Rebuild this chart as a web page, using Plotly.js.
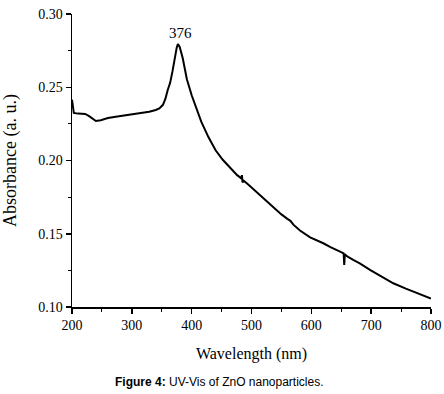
<!DOCTYPE html>
<html>
<head>
<meta charset="utf-8">
<script src="https://cdn.plot.ly/plotly-3.0.1.min.js"></script>
<style>html,body{margin:0;padding:0;background:#fff;}#chart{width:444px;height:394px;}</style>
</head>
<body>
<div id="chart"></div>
<script>
const wavelength = [200, 201, 203, 210, 222, 228, 234, 240, 248, 260, 273, 290, 301, 315, 329, 340, 346, 352, 356, 360, 364, 368, 372, 375, 377, 380, 385, 392, 400, 408, 416, 428, 440, 452, 465, 476, 483, 484, 485, 487, 495, 506, 517, 528, 540, 550, 560, 565, 570, 575, 581, 598, 610, 620, 632, 640, 648, 654, 655, 656, 660, 670, 681, 698, 718, 737, 758, 780, 800];
const absorbance = [0.2415, 0.2370, 0.2325, 0.2320, 0.2318, 0.2305, 0.2285, 0.2270, 0.2275, 0.2290, 0.2299, 0.2308, 0.2315, 0.2322, 0.2333, 0.2345, 0.2356, 0.2380, 0.2420, 0.2481, 0.2530, 0.2610, 0.2710, 0.2770, 0.2795, 0.2775, 0.2700, 0.2555, 0.2445, 0.2350, 0.2265, 0.2160, 0.2070, 0.2005, 0.1945, 0.1900, 0.1878, 0.1900, 0.1850, 0.1862, 0.1835, 0.1795, 0.1752, 0.1710, 0.1668, 0.1632, 0.1602, 0.1588, 0.1562, 0.1542, 0.1522, 0.1475, 0.1455, 0.1435, 0.1408, 0.1395, 0.1378, 0.1366, 0.1287, 0.1360, 0.1345, 0.1322, 0.1298, 0.1253, 0.1205, 0.1162, 0.1125, 0.1092, 0.1058];
const peakLabel = "376";
const peakX = 376;
const peakY = 0.2795;
const xTitle = "Wavelength (nm)";
const yTitle = "Absorbance (a. u.)";
const caption = "<b>Figure 4:</b> UV-Vis of ZnO nanoparticles.";

const serif = "'Liberation Serif', 'Times New Roman', serif";
const sans = "'Liberation Sans', Arial, sans-serif";
const trace = {
  x: wavelength, y: absorbance, type: 'scatter', mode: 'lines',
  line: {color: '#000', width: 2}, hoverinfo: 'skip'
};
const layout = {
  width: 444, height: 394,
  margin: {l: 72, r: 13, t: 14, b: 87},
  paper_bgcolor: '#fff', plot_bgcolor: '#fff',
  showlegend: false,
  font: {family: serif, color: '#000', size: 13},
  xaxis: {
    range: [200, 800], dtick: 100, tick0: 200,
    showgrid: false, zeroline: false,
    showline: true, linecolor: '#000', linewidth: 1.5,
    ticks: 'outside', ticklen: 5, tickwidth: 1.5, tickcolor: '#000',
    minor: {dtick: 50, ticks: 'outside', ticklen: 3, tickwidth: 1, tickcolor: '#000', showgrid: false},
    tickfont: {family: serif, size: 14, color: '#000'},
    title: {text: xTitle, font: {family: serif, size: 16, color: '#000'}, standoff: 15}
  },
  yaxis: {
    range: [0.10, 0.30], dtick: 0.05, tick0: 0.10, tickformat: '.2f',
    showgrid: false, zeroline: false,
    showline: true, linecolor: '#000', linewidth: 1.5,
    ticks: 'outside', ticklen: 5, tickwidth: 1.5, tickcolor: '#000',
    minor: {dtick: 0.025, ticks: 'outside', ticklen: 3, tickwidth: 1, tickcolor: '#000', showgrid: false},
    tickfont: {family: serif, size: 14, color: '#000'},
    title: {text: yTitle, font: {family: serif, size: 18, color: '#000'}, standoff: 19}
  },
  annotations: [
    {x: peakX, y: peakY, xref: 'x', yref: 'y', text: peakLabel, showarrow: false,
     yanchor: 'bottom', xshift: 3, yshift: 1, font: {family: serif, size: 15, color: '#000'}},
    {x: 0.412, y: -0.256, xref: 'paper', yref: 'paper', text: caption, showarrow: false,
     xanchor: 'center', yanchor: 'middle', font: {family: sans, size: 12, color: '#000'}}
  ]
};
Plotly.newPlot('chart', [trace], layout, {staticPlot: true, displayModeBar: false});
</script>
</body>
</html>
